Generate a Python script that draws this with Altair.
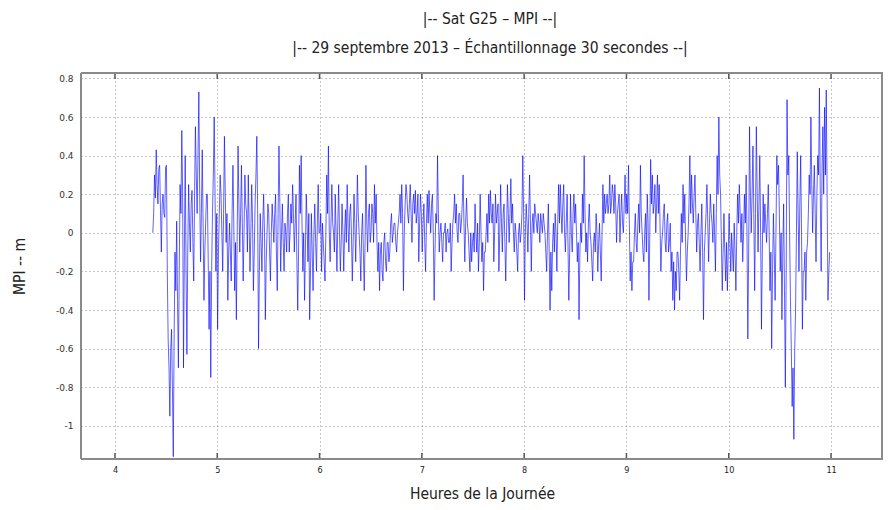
import altair as alt
import pandas as pd

# MPI values (m), one value per 30-second sample
h4 = [0.0, 0.1, 0.3, 0.18, 0.43, 0.25, 0.15, 0.33, 0.35, 0.12,
      -0.1, 0.15, 0.2, 0.1, 0.08, 0.34, 0.35, -0.2, -0.55, -0.7,
      -0.95, -0.6, -0.5, -0.8, -1.16, -0.55, -0.1, -0.3, 0.06, -0.35,
      -0.7, -0.2, 0.25, 0.1, 0.53, 0.2, -0.7, -0.1, 0.4, -0.2,
      -0.63, -0.1, 0.25, 0.05, -0.1, 0.15, 0.22, -0.05, -0.25, 0.2,
      0.55, 0.3, 0.1, 0.4, 0.73, 0.2, -0.15, 0.1, 0.43, 0.05,
      -0.35, -0.1, 0.05, 0.2, 0.2, -0.15, -0.5, -0.2, -0.75, -0.2,
      0.1, 0.3, 0.6, 0.2, -0.2, 0.1]
h5 = [-0.5, -0.1, 0.1, 0.3, 0.2, 0.0, -0.2, 0.1, 0.5, 0.2,
      -0.05, 0.1, -0.35, -0.1, 0.05, -0.1, -0.25, 0.1, 0.35, 0.05,
      -0.3, -0.05, -0.45, 0.0, 0.45, 0.15, -0.1, 0.1, 0.35, 0.05,
      -0.25, 0.0, 0.3, 0.15, 0.1, -0.1, 0.3, 0.05, -0.2, 0.0,
      0.25, 0.05, -0.3, -0.1, 0.15, 0.3, 0.5, 0.1, -0.6, -0.2,
      0.1, -0.05, -0.2, 0.05, 0.2, 0.0, -0.45, -0.15, 0.0, 0.15,
      0.1, -0.1, -0.25, 0.0, 0.15, 0.05, -0.05, 0.1, 0.2, -0.1,
      -0.3, 0.1, 0.45, 0.15, -0.2, 0.0, 0.15, -0.05, -0.2, 0.05,
      0.0, -0.1, 0.1, 0.2, -0.1, 0.0, 0.15, 0.05, 0.25, 0.1,
      -0.1, 0.05, 0.2, -0.15, -0.4, -0.1, 0.35, 0.1, 0.4, 0.05,
      -0.2, 0.0, -0.35, -0.1, 0.2, 0.05, -0.15, 0.1, -0.45, -0.2,
      0.1, -0.1, -0.3, 0.0, 0.15, -0.05, -0.2, 0.05, 0.25, 0.0]
h6 = [0.0, 0.1, -0.2, 0.05, -0.05, -0.15, -0.25, 0.0, 0.3, 0.1,
      0.45, 0.0, -0.15, 0.05, 0.25, 0.05, 0.0, -0.1, 0.2, 0.0,
      -0.2, 0.05, 0.25, 0.0, -0.2, -0.05, 0.15, 0.0, -0.2, 0.0,
      0.12, -0.05, 0.25, 0.05, -0.1, 0.1, 0.15, 0.0, -0.25, -0.05,
      0.2, 0.05, -0.15, 0.05, 0.3, 0.1, 0.0, -0.1, -0.25, 0.0,
      0.1, -0.1, -0.3, -0.05, 0.35, 0.05, -0.1, 0.1, 0.15, -0.05,
      0.0, 0.15, 0.1, -0.05, 0.25, 0.05, 0.2, -0.05, -0.2, -0.05,
      -0.3, -0.1, -0.05, -0.2, -0.25, -0.05, 0.0, -0.15, -0.2, -0.05,
      -0.05, -0.15, -0.1, 0.05, 0.1, -0.05, 0.0, 0.05, 0.05, -0.05,
      -0.1, 0.0, 0.05, 0.1, 0.2, 0.05, 0.25, 0.1, -0.3, 0.0,
      0.15, 0.25, 0.2, 0.1, 0.05, 0.15, 0.25, 0.1, -0.05, 0.15,
      0.2, 0.1, 0.22, 0.05, 0.1, 0.2, -0.15, 0.05, 0.2, 0.1]
h7 = [-0.1, 0.05, 0.15, -0.05, -0.2, 0.05, 0.2, 0.05, 0.22, 0.1,
      0.0, 0.15, 0.2, 0.0, -0.35, -0.1, 0.1, 0.05, 0.4, 0.1,
      -0.1, 0.0, 0.05, -0.05, -0.15, 0.0, 0.0, 0.05, -0.1, 0.0,
      0.02, -0.05, -0.05, 0.05, -0.2, -0.05, 0.05, 0.1, 0.2, 0.05,
      0.15, 0.0, -0.05, 0.1, 0.1, 0.0, 0.05, 0.15, 0.3, 0.05,
      -0.15, 0.05, 0.18, 0.05, 0.0, -0.1, -0.2, 0.0, -0.15, -0.05,
      0.0, -0.1, 0.15, 0.0, -0.1, 0.05, -0.2, -0.05, 0.2, 0.0,
      -0.15, -0.05, -0.3, -0.1, -0.1, 0.0, 0.1, -0.05, 0.2, 0.05,
      0.22, 0.1, 0.05, 0.15, -0.15, 0.0, 0.2, 0.05, 0.1, 0.15,
      -0.2, 0.0, 0.25, 0.05, -0.1, 0.1, 0.15, -0.05, -0.25, 0.0,
      0.25, 0.1, -0.05, 0.1, 0.28, 0.05, 0.15, 0.0, -0.1, 0.05,
      0.0, -0.1, -0.2, 0.0, 0.05, -0.05, 0.0, 0.1, 0.4, 0.1]
h8 = [-0.35, 0.0, 0.15, 0.05, -0.1, 0.1, 0.3, 0.05, -0.2, 0.05,
      0.1, 0.0, 0.15, 0.1, 0.05, 0.0, 0.1, 0.05, -0.05, 0.1,
      0.05, 0.0, 0.1, 0.05, 0.0, -0.1, -0.2, 0.0, 0.15, -0.1,
      -0.4, -0.1, -0.3, -0.05, 0.05, -0.1, 0.1, 0.0, -0.2, 0.05,
      0.25, 0.05, 0.25, 0.1, 0.0, 0.15, 0.25, 0.0, -0.1, 0.05,
      0.2, -0.05, -0.35, -0.1, 0.2, 0.0, -0.1, 0.1, 0.2, 0.05,
      0.15, 0.0, -0.15, -0.05, -0.45, -0.1, 0.05, -0.05, 0.2, 0.05,
      0.4, 0.1, -0.1, 0.0, -0.15, 0.05, 0.15, 0.0, -0.05, -0.15,
      -0.25, -0.05, 0.0, -0.1, 0.1, 0.0, -0.2, -0.05, 0.05, -0.1,
      -0.25, 0.0, 0.25, 0.05, 0.2, 0.1, 0.15, 0.2, 0.1, 0.15,
      0.3, 0.1, 0.15, 0.25, 0.2, 0.1, 0.25, 0.15, -0.05, 0.1,
      0.15, 0.2, -0.05, 0.1, 0.2, 0.05, 0.0, 0.15, 0.3, 0.1]
h9 = [0.2, 0.1, 0.35, 0.05, -0.25, -0.1, -0.3, -0.15, -0.15, 0.0,
      0.1, -0.05, -0.1, 0.05, 0.15, 0.0, 0.35, 0.1, 0.0, -0.1,
      -0.15, 0.0, 0.1, -0.1, 0.2, 0.05, -0.35, 0.0, 0.38, 0.15,
      0.3, 0.1, 0.15, 0.25, 0.0, 0.15, 0.3, 0.1, 0.25, 0.05,
      -0.2, -0.05, 0.0, 0.1, 0.15, -0.05, -0.1, 0.05, 0.1, -0.1,
      -0.05, 0.05, -0.2, -0.1, -0.35, -0.15, -0.4, -0.2, -0.3, -0.1,
      -0.1, -0.2, -0.35, -0.1, 0.1, -0.05, 0.25, 0.05, 0.2, -0.05,
      -0.25, -0.1, 0.0, 0.15, 0.4, 0.1, 0.3, 0.15, 0.05, 0.2,
      0.3, 0.1, -0.1, 0.05, 0.1, -0.05, -0.2, 0.0, 0.15, -0.1,
      -0.45, -0.1, 0.0, 0.1, 0.25, 0.05, -0.15, 0.05, 0.2, 0.1,
      0.05, -0.05, 0.15, 0.0, -0.2, 0.1, 0.4, 0.2, 0.6, 0.3,
      0.2, -0.05, -0.3, -0.1, 0.1, -0.1, -0.25, -0.05, -0.3, -0.1]
h10 = [0.1, -0.05, -0.2, 0.0, -0.1, -0.2, 0.05, -0.1, -0.3, 0.0,
       0.2, 0.05, 0.25, 0.1, -0.05, 0.1, -0.15, 0.0, 0.2, 0.05,
       0.3, 0.0, -0.55, -0.1, 0.55, 0.2, 0.0, 0.2, 0.45, 0.1,
       -0.3, 0.1, 0.55, 0.2, -0.1, 0.15, 0.4, 0.0, -0.5, -0.1,
       0.2, 0.0, 0.15, 0.05, -0.05, 0.1, 0.25, 0.0, -0.3, -0.1,
       -0.6, -0.2, 0.1, -0.1, -0.35, 0.0, 0.4, 0.25, 0.35, 0.1,
       -0.2, 0.0, -0.45, -0.1, 0.15, -0.3, -0.8, -0.2, 0.69, 0.3,
       0.4, 0.0, -0.35, -0.6, -0.9, -0.7, -1.07, -0.6, -0.4, 0.0,
       0.42, 0.1, -0.2, 0.15, 0.4, 0.0, -0.5, -0.2, -0.2, -0.1,
       -0.35, -0.1, -0.05, 0.1, 0.3, 0.2, 0.6, 0.25, 0.0, 0.2,
       0.35, 0.1, -0.15, 0.2, 0.4, 0.3, 0.75, 0.2, -0.2, 0.3,
       0.55, 0.2, 0.65, 0.3, 0.74, 0.2, -0.35, -0.2, -0.1]

values = h4 + h5 + h6 + h7 + h8 + h9 + h10
start_hour = 4.37
step_hour = 30.0 / 3600.0   # 30-second sampling
times = [start_hour + i * step_hour for i in range(len(values))]

x_ticks = [4, 5, 6, 7, 8, 9, 10, 11]
y_ticks = [0.8, 0.6, 0.4, 0.2, 0, -0.2, -0.4, -0.6, -0.8, -1]
x_domain = [3.668, 11.508]
y_domain = [-1.172, 0.828]

df = pd.DataFrame({"heure": times, "mpi": values})
ticks_df = pd.DataFrame({"t": x_ticks})
one_df = pd.DataFrame({"k": [0]})

W, H = 802, 386
TXT = "DejaVu Sans Condensed, sans-serif"
FRAME = "#8a8a8a"

xscale = alt.Scale(domain=x_domain, nice=False, zero=False)
yscale = alt.Scale(domain=y_domain, nice=False, zero=False)

x_axis = alt.Axis(values=x_ticks, title="Heures de la Journée", ticks=False,
                  grid=True, gridDash=[1, 3], gridColor="#8c8c8c", gridWidth=1,
                  domain=False, labelFont="DejaVu Sans Condensed", labelFontSize=9,
                  labelColor="#222", labelPadding=6, titleFont=TXT,
                  titleFontSize=15.5, titleFontWeight="normal", titleColor="#222",
                  titlePadding=12)
y_axis = alt.Axis(values=y_ticks, title="MPI -- m", ticks=False,
                  grid=True, gridDash=[1, 3], gridColor="#8c8c8c", gridWidth=1,
                  domain=False, labelFont="DejaVu Sans", labelFontSize=9,
                  labelColor="#333", labelPadding=8,
                  labelExpr="'' + datum.value",
                  titleFont=TXT, titleFontSize=15.5, titleFontWeight="normal",
                  titleColor="#222", titlePadding=28)

line = alt.Chart(df).mark_line(color="#0000ff", strokeWidth=1, opacity=0.62).encode(
    x=alt.X("heure:Q", scale=xscale, axis=x_axis),
    y=alt.Y("mpi:Q", scale=yscale, axis=y_axis),
)

bottom_ticks = alt.Chart(ticks_df).mark_rule(color="#555", strokeWidth=1.5).encode(
    x=alt.X("t:Q", scale=xscale, axis=x_axis),
    y=alt.value(H), y2=alt.value(H - 6),
)
top_ticks = alt.Chart(ticks_df).mark_rule(color="#555", strokeWidth=1.5).encode(
    x=alt.X("t:Q", scale=xscale, axis=x_axis),
    y=alt.value(0), y2=alt.value(6),
)

frame_v = alt.Chart(one_df).mark_rule(color=FRAME, strokeWidth=2)
frame = [
    frame_v.encode(x=alt.value(0), y=alt.value(0), y2=alt.value(H)),
    frame_v.encode(x=alt.value(W - 1), y=alt.value(0), y2=alt.value(H)),
    frame_v.encode(x=alt.value(0), x2=alt.value(W), y=alt.value(0)),
    frame_v.encode(x=alt.value(0), x2=alt.value(W), y=alt.value(H)),
]

chart = alt.layer(line, bottom_ticks, top_ticks, *frame).properties(
    width=W, height=H,
    autosize=alt.AutoSizeParams(type="none"),
    padding={"left": 73, "top": 65, "right": 0, "bottom": 43},
    title=alt.TitleParams(
        text=["|-- Sat G25 – MPI --|",
              "|-- 29 septembre  2013 – Échantillonnage  30 secondes  --|"],
        font=TXT, fontSize=15.5, fontWeight="normal", color="#222",
        lineHeight=29, anchor="middle", offset=16, dx=8,
    ),
).configure_view(strokeWidth=0).configure(background="white")

chart.save("out.html", embed_options={"renderer": "svg", "actions": False})
